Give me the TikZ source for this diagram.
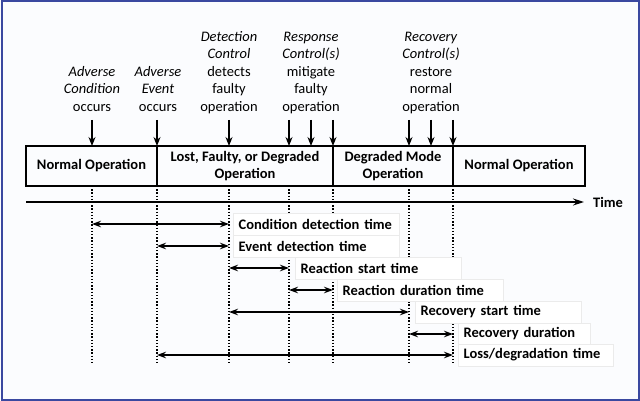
\documentclass[tikz,border=0pt]{standalone}
\usepackage{fontspec}
\setmainfont{Carlito}
\usetikzlibrary{arrows.meta,positioning}

\definecolor{framecol}{RGB}{58,72,160}
\definecolor{papercol}{RGB}{251,252,254}

\tikzset{
    evlabel/.style={align=center, anchor=south, inner sep=0pt},
    evarrow/.style={-{Stealth[length=9pt,width=7pt]}, line width=1.3pt, shorten <=3pt},
    phasebox/.style={draw, line width=1.5pt, outer sep=0pt, inner sep=0pt, minimum height=40pt,
        align=center, font=\bfseries\fontsize{14.5}{17}\selectfont},
    guideline/.style={line width=1.2pt, dash pattern=on 1.4pt off 1.8pt},
    spanarrow/.style={{Stealth[length=9pt,width=6.5pt]}-{Stealth[length=9pt,width=6.5pt]}, line width=1.3pt},
    spanlbl/.style={anchor=west, fill=white, draw=black!8, minimum height=22pt, inner xsep=5.5pt,
        inner ysep=0pt, text width=155pt, align=left, font=\bfseries\fontsize{14.5}{17}\selectfont},
    timearrow/.style={-{Stealth[length=11pt,width=7pt]}, line width=1.3pt}
}

\begin{document}
\begin{tikzpicture}[x=1pt,y=-1pt, every node/.style={font=\fontsize{14.5}{17.6}\selectfont}]
        % --- Draw background and frame ---
        \fill[papercol] (0,0) rectangle (640,401);
        \draw[framecol, line width=2pt] (1.5,1.5) rectangle (638.5,399.5);
        % ---

        % --- Draw phase boxes ---
        \node[phasebox, minimum width=131pt] (normA) at (91.5,166) {Normal Operation};
        \node[phasebox, minimum width=176pt, right=0pt of normA] (lost) {Lost, Faulty, or Degraded\\Operation};
        \node[phasebox, minimum width=120pt, right=0pt of lost] (degr) {Degraded Mode\\Operation};
        \node[phasebox, minimum width=132pt, right=0pt of degr] (normB) {Normal Operation};
        % ---

        % --- Time marks on top of the boxes ---
        \foreach \n/\x in {Cond/92, Event/157, Detect/229, RespA/289, RespB/311, RespC/333, RecA/409, RecB/431, RecC/453}
            \coordinate (t\n) at (\x,146);
        % ---

        % --- Draw events and their arrows ---
        \node[evlabel] (cond) at (92,117) {\textit{Adverse}\\\textit{Condition}\\occurs\strut};
        \node[evlabel] (event) at (158,117) {\textit{Adverse}\\\textit{Event}\\occurs\strut};
        \node[evlabel] (detect) at (229,117) {\textit{Detection}\\\textit{Control}\\detects\\faulty\\operation\strut};
        \node[evlabel] (respond) at (311,117) {\textit{Response}\\\textit{Control(s)}\\mitigate\\faulty\\operation\strut};
        \node[evlabel] (recover) at (431,117) {\textit{Recovery}\\\textit{Control(s)}\\restore\\normal\\operation\strut};
        \draw[evarrow] (tCond |- cond.south) -- (tCond);
        \draw[evarrow] (tEvent |- event.south) -- (tEvent);
        \draw[evarrow] (tDetect |- detect.south) -- (tDetect);
        \foreach \n in {RespA,RespB,RespC}
            \draw[evarrow] (t\n |- respond.south) -- (t\n);
        \foreach \n in {RecA,RecB,RecC}
            \draw[evarrow] (t\n |- recover.south) -- (t\n);
        % ---

        % --- Draw time axis and dotted guides ---
        \node[anchor=west, inner sep=0pt, font=\bfseries\fontsize{14.5}{17}\selectfont] (time) at (593,202) {Time};
        \draw[timearrow] (normA.south west |- time.west) -- ([xshift=-9pt]time.west);
        \foreach \n in {Cond,Event,Detect,RespA,RespC,RecA,RecC}
            \draw[guideline] (t\n |- normA.south) -- ++(0,177);
        % ---

        % --- Draw durations ---
        \node[spanlbl] (lCondDet) at ([xshift=4pt]tDetect |- 0,224) {Condition detection time};
        \node[spanlbl] (lEventDet) at ([xshift=4pt]tDetect |- 0,246) {Event detection time};
        \node[spanlbl] (lReactStart) at ([xshift=6pt]tRespA |- 0,268) {Reaction start time};
        \node[spanlbl] (lReactDur) at ([xshift=4pt]tRespC |- 0,290) {Reaction duration time};
        \node[spanlbl] (lRecStart) at ([xshift=6pt]tRecA |- 0,312) {Recovery start time};
        \node[spanlbl, text width=121pt] (lRecDur) at ([xshift=5pt]tRecC |- 0,334) {Recovery duration};
        \node[spanlbl, text width=144pt] (lLoss) at ([xshift=5pt]tRecC |- 0,355) {Loss/degradation time};
        \draw[spanarrow] (tCond |- lCondDet) -- (tDetect |- lCondDet);
        \draw[spanarrow] (tEvent |- lEventDet) -- (tDetect |- lEventDet);
        \draw[spanarrow] (tDetect |- lReactStart) -- (tRespA |- lReactStart);
        \draw[spanarrow] (tRespA |- lReactDur) -- (tRespC |- lReactDur);
        \draw[spanarrow] (tDetect |- lRecStart) -- (tRecA |- lRecStart);
        \draw[spanarrow] (tRecA |- lRecDur) -- (tRecC |- lRecDur);
        \draw[spanarrow] (tEvent |- lLoss) -- (tRecC |- lLoss);
        % ---
\end{tikzpicture}
\end{document}
